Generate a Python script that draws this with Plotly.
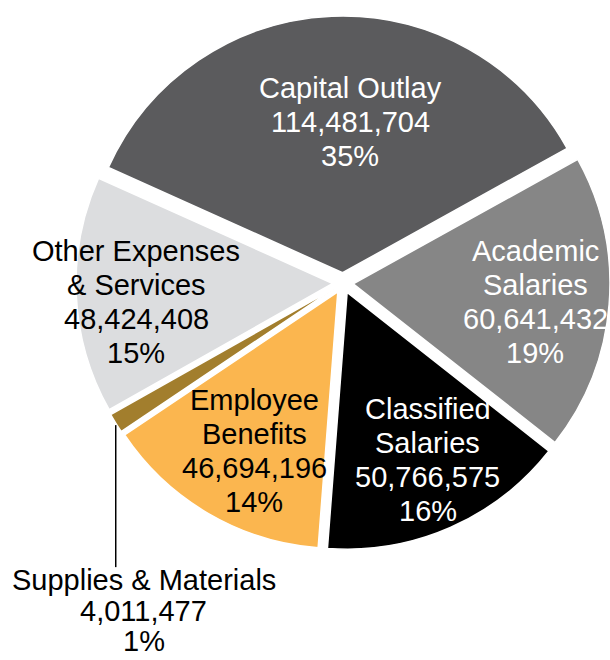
import math
import plotly.graph_objects as go

# ---- data ----
categories = ["Capital Outlay", "Academic Salaries", "Classified Salaries",
              "Employee Benefits", "Supplies & Materials", "Other Expenses & Services"]
amounts = [114481704, 60641432, 50766575, 46694196, 4011477, 48424408]
label_lines = [["Capital Outlay"], ["Academic", "Salaries"], ["Classified", "Salaries"],
               ["Employee", "Benefits"], ["Supplies & Materials"], ["Other Expenses", "& Services"]]

# ---- style ----
colors = ["#5B5B5D", "#868686", "#000000", "#FBB64F", "#A27E2D", "#DCDDDF"]
text_colors = ["white", "white", "white", "black", "black", "black"]
label_radius_frac = [0.628, 0.752, 0.765, 0.741, None, 0.808]
label_angle_nudge = [4.9, 1.2, -1.9, -2.4, 0.0, -2.6]
FONT = "Arial, Liberation Sans, sans-serif"
FS = 29
LINE_H = 34

W, H = 610, 660
rotation = -65.8
pull = 0.04
dom_x = [76 / W, 1.0]
dom_y = [110 / H, 644 / H]

fig = go.Figure(go.Pie(
    labels=categories, values=amounts, sort=False, direction="clockwise",
    rotation=rotation, pull=[pull] * len(amounts),
    marker=dict(colors=colors, line=dict(color="white", width=1.5)),
    textinfo="none", hoverinfo="label+value+percent",
    domain=dict(x=dom_x, y=dom_y), showlegend=False,
))

# geometry of the pie (pixels, y measured from top)
cx = (dom_x[0] + dom_x[1]) / 2 * W
cy = H - (dom_y[0] + dom_y[1]) / 2 * H
r = min((dom_x[1] - dom_x[0]) * W, (dom_y[1] - dom_y[0]) * H) / 2 / (1 + pull)
total = sum(amounts)

def to_paper(px, py):
    return px / W, 1 - py / H

annotations = []
shapes = []
start = rotation
for i, v in enumerate(amounts):
    span = v / total * 360
    mid = start + span / 2
    start += span
    pct = f"{round(v / total * 100)}%"
    lines = label_lines[i] + [f"{v:,}", pct]
    if label_radius_frac[i] is not None:
        a = math.radians(mid + label_angle_nudge[i])
        lx = cx + label_radius_frac[i] * r * math.sin(a)
        ly = cy - label_radius_frac[i] * r * math.cos(a)
        n = len(lines)
        for j, t in enumerate(lines):
            px, py = to_paper(lx, ly + (j - (n - 1) / 2) * LINE_H)
            annotations.append(dict(x=px, y=py, xref="paper", yref="paper", text=t,
                                    showarrow=False, xanchor="center", yanchor="middle",
                                    font=dict(family=FONT, size=FS, color=text_colors[i])))
    else:
        # outside label with leader line
        a = math.radians(mid)
        ex = cx + pull * r * math.sin(a) + r * math.sin(a)
        ey = cy - pull * r * math.cos(a) - r * math.cos(a)
        ey_end = ey + 144
        x0, y0 = to_paper(ex, ey + 2)
        x1, y1 = to_paper(ex, ey_end)
        shapes.append(dict(type="line", xref="paper", yref="paper", x0=x0, y0=y0, x1=x1, y1=y1,
                           line=dict(color="black", width=1.5)))
        tx = ex + 28
        for j, t in enumerate(lines):
            px, py = to_paper(tx, ey_end + 13 + j * 30.5)
            annotations.append(dict(x=px, y=py, xref="paper", yref="paper", text=t,
                                    showarrow=False, xanchor="center", yanchor="middle",
                                    font=dict(family=FONT, size=FS, color=text_colors[i])))

fig.update_layout(
    width=W, height=H, margin=dict(l=0, r=0, t=0, b=0),
    paper_bgcolor="white", plot_bgcolor="white",
    annotations=annotations, shapes=shapes,
)

fig.write_html("out.html", config={"displayModeBar": False},
               post_script="document.body.style.margin='0';document.body.style.overflow='hidden';")
